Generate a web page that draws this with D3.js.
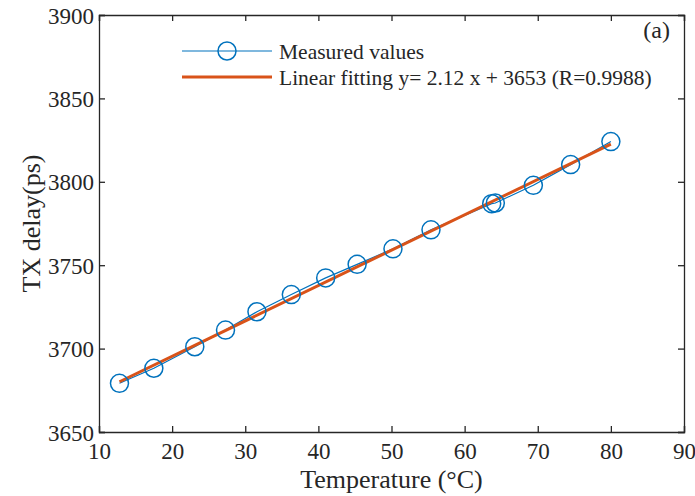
<!DOCTYPE html>
<html>
<head>
<meta charset="utf-8">
<script src="https://cdn.jsdelivr.net/npm/d3@7"></script>
<style>
  html, body { margin: 0; padding: 0; background: #fff; }
  svg { display: block; }
  text { font-family: "Liberation Serif", "Times New Roman", serif; fill: #262626; }
</style>
</head>
<body>
<svg id="chart" width="695" height="496"></svg>
<script>
// Data
const temperature = [12.8, 17.5, 23.1, 27.3, 31.6, 36.3, 41.0, 45.3, 50.2, 55.4, 63.7, 64.2, 69.4, 74.5, 80.0];
const txDelay = [3679.2, 3688.2, 3701.1, 3711.1, 3722.1, 3732.4, 3742.4, 3750.5, 3759.8, 3771.2, 3786.9, 3787.3, 3797.9, 3810.3, 3824.1];
const fitSlope = 2.12;
const fitIntercept = 3653;
const xTicks = [10, 20, 30, 40, 50, 60, 70, 80, 90];
const yTicks = [3650, 3700, 3750, 3800, 3850, 3900];
const legendLabels = ["Measured values", "Linear fitting y= 2.12 x + 3653 (R=0.9988)"];
const panelLabel = "(a)";
const xLabel = "Temperature (\u00B0C)";
const yLabel = "TX delay(ps)";

const blue = "#0072BD", orange = "#D95319", axisColor = "#262626";
const serif = '"Liberation Serif", "Times New Roman", serif';
const m = { left: 99, right: 684, top: 15, bottom: 432 };

const svg = d3.select("#chart");
const x = d3.scaleLinear().domain([10, 90]).range([m.left, m.right]);
const y = d3.scaleLinear().domain([3650, 3900]).range([m.bottom, m.top]);

// Axes
const tickLen = 6;
const gx = svg.append("g").attr("transform", `translate(0,${m.bottom})`)
  .call(d3.axisBottom(x).tickValues(xTicks).tickSize(-tickLen).tickPadding(11).tickFormat(d3.format("d")));
const gxTop = svg.append("g").attr("transform", `translate(0,${m.top})`)
  .call(d3.axisTop(x).tickValues(xTicks).tickSize(-tickLen).tickFormat(""));
const gy = svg.append("g").attr("transform", `translate(${m.left},0)`)
  .call(d3.axisLeft(y).tickValues(yTicks).tickSize(-tickLen).tickPadding(5).tickFormat(d3.format("d")));
const gyR = svg.append("g").attr("transform", `translate(${m.right},0)`)
  .call(d3.axisRight(y).tickValues(yTicks).tickSize(-tickLen).tickFormat(""));

[gx, gxTop, gy, gyR].forEach(g => {
  g.attr("font-family", serif).attr("font-size", 23);
  g.select(".domain").attr("stroke", axisColor).attr("stroke-width", 1.3);
  g.selectAll(".tick line").attr("stroke", axisColor).attr("stroke-width", 1.3);
  g.selectAll(".tick text").attr("font-family", serif).attr("font-size", 23).attr("fill", axisColor);
});
gx.selectAll(".tick text").attr("dy", "0.71em");
gy.selectAll(".tick text").attr("dy", "0.35em");

// Measured line
const line = d3.line().x((d, i) => x(temperature[i])).y(d => y(d));
svg.append("path").datum(txDelay).attr("d", line)
  .attr("fill", "none").attr("stroke", blue).attr("stroke-width", 1.2);

// Fit line
const xMin = d3.min(temperature), xMax = d3.max(temperature);
svg.append("line")
  .attr("x1", x(xMin)).attr("y1", y(fitSlope * xMin + fitIntercept))
  .attr("x2", x(xMax)).attr("y2", y(fitSlope * xMax + fitIntercept))
  .attr("stroke", orange).attr("stroke-width", 3);

// Markers
svg.append("g").selectAll("circle").data(txDelay).join("circle")
  .attr("cx", (d, i) => x(temperature[i])).attr("cy", d => y(d)).attr("r", 9)
  .attr("fill", "none").attr("stroke", blue).attr("stroke-width", 1.5);

// Legend
const lg = svg.append("g");
lg.append("line").attr("x1", 182).attr("x2", 272).attr("y1", 51).attr("y2", 51)
  .attr("stroke", blue).attr("stroke-width", 1.2);
lg.append("circle").attr("cx", 227).attr("cy", 51).attr("r", 9)
  .attr("fill", "none").attr("stroke", blue).attr("stroke-width", 1.5);
lg.append("line").attr("x1", 182).attr("x2", 272).attr("y1", 77).attr("y2", 77)
  .attr("stroke", orange).attr("stroke-width", 3);
lg.selectAll("text").data(legendLabels).join("text")
  .attr("x", 279).attr("y", (d, i) => 51 + i * 26).attr("dy", "0.35em")
  .attr("font-family", serif).attr("font-size", 21.5).text(d => d);

// Panel label
svg.append("text").attr("x", 670).attr("y", 38).attr("text-anchor", "end")
  .attr("font-family", serif).attr("font-size", 24).text(panelLabel);

// Axis labels
svg.append("text").attr("x", (m.left + m.right) / 2).attr("y", 488)
  .attr("text-anchor", "middle").attr("font-family", serif).attr("font-size", 26).text(xLabel);
svg.append("text").attr("transform", `translate(40,${(m.top + m.bottom) / 2}) rotate(-90)`)
  .attr("text-anchor", "middle").attr("font-family", serif).attr("font-size", 26).text(yLabel);
</script>
</body>
</html>
